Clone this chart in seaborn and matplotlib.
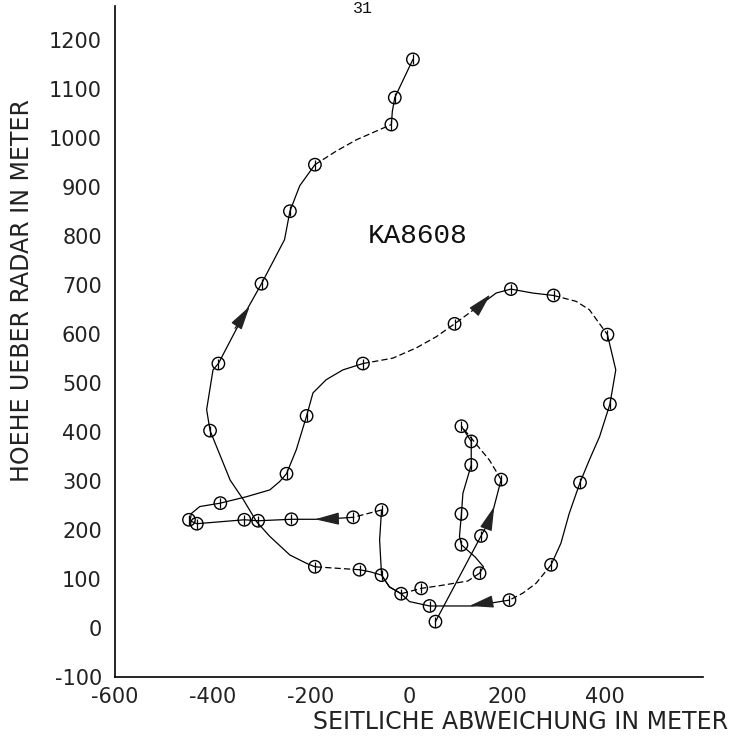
import matplotlib
matplotlib.use("Agg")
import matplotlib.pyplot as plt
import seaborn as sns
import pandas as pd

# ---- data (metres) ----
path_x = [54, 147, 168, 188, 164, 140, 107, 127, 127, 110, 107, 103, 107, 135, 152, 144, 120, 60, 25,
          -16, -40, -56, -60, -56, -114, -178, -240, -308, -336, -433, -447, -444, -427, -385, -332,
          -284, -264, -250, -230, -209, -196, -169, -135, -94, -33, 15, 56, 93, 151, 178, 208, 252,
          295, 341, 368, 405, 422, 410, 389, 368, 349, 327, 310, 290, 259, 232, 205, 130, 42, 1,
          -16, -40, -56, -80, -101, -192, -209, -243, -284, -311, -338, -365, -406, -413, -400, -389,
          -342, -301, -254, -243, -223, -192, -148, -107, -36, -34, -29, 8]
path_y = [13, 188, 226, 303, 343, 372, 412, 381, 333, 275, 233, 187, 170, 145, 125, 112, 96, 86, 81,
          70, 84, 108, 180, 241, 226, 222, 222, 219, 221, 213, 219, 234, 248, 255, 268,
          282, 299, 315, 364, 433, 480, 507, 527, 540, 551, 572, 595, 621, 664, 684, 692, 684,
          679, 667, 650, 599, 527, 457, 391, 343, 297, 234, 173, 129, 91, 71, 57, 45, 45, 54,
          70, 84, 108, 115, 119, 125, 132, 149, 187, 217, 262, 302, 403, 446, 527, 540,
          630, 703, 793, 851, 903, 946, 974, 997, 1028, 1055, 1083, 1161]

marker_x = [54, 147, 188, 107, 127, 127, 107, 107, 144, 25, -16, -56, -56, -114, -240, -308, -336,
            -433, -449, -385, -250, -209, -94, 93, 208, 295, 405, 410, 349, 290, 205, 42, -101,
            -192, -406, -389, -301, -243, -192, -36, -29, 8]
marker_y = [13, 188, 303, 412, 381, 333, 233, 170, 112, 81, 70, 108, 241, 226, 222, 219, 221,
            213, 221, 255, 315, 433, 540, 621, 692, 679, 599, 457, 297, 129, 57, 45, 119,
            125, 403, 540, 703, 851, 946, 1028, 1083, 1161]

# direction arrows: tail -> head
arrow_tail = [(158, 205), (-155, 223), (137, 650), (160, 52), (-355, 612)]
arrow_head = [(174, 248), (-192, 222), (166, 681), (123, 45), (-325, 657)]

x_ticks = [-600, -400, -200, 0, 200, 400]
y_ticks = list(range(-100, 1201, 100))
title_text = "KA8608"
x_label = "SEITLICHE ABWEICHUNG IN METER"
y_label = "HOEHE UEBER RADAR IN METER"
page_no = "31"

# ---- figure ----
sns.set_theme(style="white")
plt.rcParams["font.family"] = ["DejaVu Sans"]

W, H = 741, 742
fig = plt.figure(figsize=(W / 100, H / 100), dpi=100)
ax = fig.add_axes([115 / W, 1 - 677 / H, (703 - 115) / W, (677 - 6) / H])

df = pd.DataFrame({"x": path_x, "y": path_y, "i": range(len(path_x))})

# segments drawn with gaps (plotter / scan look)
dashed_ranges = [(3, 6), (15, 19), (23, 24), (43, 48), (52, 55), (63, 66), (74, 75), (91, 94)]
cuts = sorted(set([0, len(path_x) - 1] + [a for r in dashed_ranges for a in r]))
for a, b in zip(cuts[:-1], cuts[1:]):
    seg = df.iloc[a:b + 1]
    dashed = (a, b) in dashed_ranges
    sns.lineplot(data=seg, x="x", y="y", sort=False, estimator=None, ax=ax,
                 color="black", lw=0.9, linestyle=(0, (5, 2.5)) if dashed else "-")

mk = pd.DataFrame({"x": marker_x, "y": marker_y})
sns.scatterplot(data=mk, x="x", y="y", ax=ax, marker="o", s=80,
                facecolor="none", edgecolor="black", linewidth=1.0, zorder=3)
sns.scatterplot(data=mk, x="x", y="y", ax=ax, marker="|", s=55,
                color="black", linewidth=0.9, zorder=3)

for t, h in zip(arrow_tail, arrow_head):
    ax.annotate("", xy=h, xytext=t,
                arrowprops=dict(arrowstyle="-|>,head_length=1.25,head_width=0.32",
                                color="#222222", lw=0.9, shrinkA=0, shrinkB=0,
                                mutation_scale=12))

ax.text(18, 800, title_text, ha="center", va="center", fontsize=20,
        family="Liberation Mono", color="#111111")

ax.set_xlim(-600, 600)
ax.set_ylim(-100, 1270)
ax.set_xticks(x_ticks)
ax.set_yticks(y_ticks)
ax.set_xticklabels([str(v) for v in x_ticks])
ax.set_yticklabels([str(v) for v in y_ticks])
ax.tick_params(axis="both", direction="inout", length=13, width=1.0, colors="black",
               labelsize=15)
ax.tick_params(axis="y", pad=3)
ax.tick_params(axis="x", pad=1)
for lab in ax.get_xticklabels() + ax.get_yticklabels():
    lab.set_color("#222222")

sns.despine(ax=ax, top=True, right=True)
for s in ("left", "bottom"):
    ax.spines[s].set_linewidth(1.2)
    ax.spines[s].set_color("black")
ax.set_xlabel("")
ax.set_ylabel("")

fig.text(521 / W, 1 - 722 / H, x_label, ha="center", va="center", fontsize=17, color="#222222")
fig.text(22 / W, 1 - 291 / H, y_label, ha="center", va="center", rotation=90,
         fontsize=17, color="#222222")
fig.text(363 / W, 1 - 1 / H, page_no, ha="center", va="top", fontsize=12,
         family="Liberation Mono", color="#111111")

fig.savefig("out.png", dpi=100, facecolor="white")
